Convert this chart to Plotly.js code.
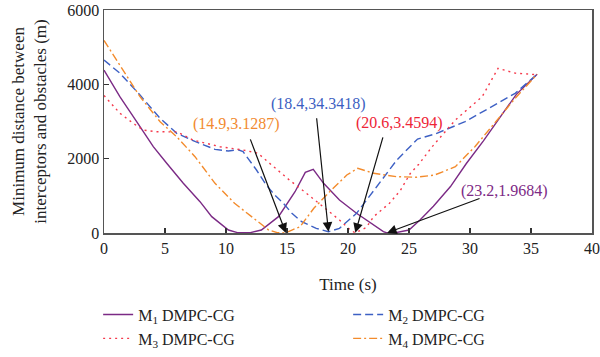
<!DOCTYPE html>
<html>
<head>
<meta charset="utf-8">
<script src="https://cdn.plot.ly/plotly-3.0.1.min.js"></script>
<style>html,body{margin:0;padding:0;background:#fff}#chart{width:600px;height:357px}</style>
</head>
<body>
<div id="chart"></div>
<script>
// ---- data ----
const seriesNames = ['M<sub>1</sub> DMPC-CG', 'M<sub>2</sub> DMPC-CG', 'M<sub>3</sub> DMPC-CG', 'M<sub>4</sub> DMPC-CG'];

const m1Time = [0, 1.3, 2.95, 4.04, 5.14, 6.5, 7.87, 8.83, 10.2, 11.0, 12.0, 12.9, 14.3, 15.66, 16.5, 17.15, 18.0, 19.3, 20.7, 22.1, 22.9, 23.2, 24.0, 25.0, 25.9, 27.0, 28.4, 29.7, 31.1, 32.5, 33.8, 35.5];
const m1Dist = [4380, 3667, 2860, 2322, 1875, 1337, 843, 440, 80, 5, 10, 80, 440, 1110, 1630, 1713, 1337, 888, 530, 215, 35, 2, 15, 80, 350, 720, 1250, 1870, 2480, 3130, 3730, 4270];

const m2Time = [0, 1.31, 2.95, 4.6, 5.96, 7.5, 9.1, 10.2, 11.0, 11.4, 12.5, 13.3, 14.0, 14.7, 15.4, 16.2, 17.4, 18.4, 19.3, 20.7, 22.35, 24.0, 25.7, 27.1, 29.6, 31.8, 33.7, 35.5];
const m2Dist = [4654, 4296, 3712, 3085, 2682, 2456, 2251, 2206, 2240, 2190, 1695, 1290, 1022, 800, 530, 304, 126, 34, 126, 530, 1245, 1963, 2528, 2660, 2994, 3398, 3758, 4270];

const m3Time = [0, 1.31, 2.4, 3.2, 4.3, 6.0, 7.3, 9.5, 11.4, 12.6, 13.9, 15.2, 16.6, 18.0, 19.3, 20.2, 20.6, 21.5, 22.1, 23.4, 24.3, 25.1, 25.8, 26.9, 28.0, 28.8, 31.0, 32.3, 33.7, 35.5];
const m3Dist = [3700, 3220, 2950, 2770, 2725, 2720, 2500, 2322, 2233, 2150, 1784, 1425, 1068, 708, 350, 80, 3, 150, 440, 800, 1150, 1600, 1850, 2322, 2725, 3040, 3670, 4430, 4300, 4260];

const m4Time = [0, 1.31, 2.95, 4.6, 5.96, 7.46, 9.1, 10.7, 12.4, 13.5, 14.2, 14.9, 15.4, 16.07, 17.2, 18.5, 19.9, 20.8, 22.1, 24.0, 25.6, 27.1, 28.8, 30.4, 32.0, 33.7, 35.5];
const m4Dist = [5180, 4519, 3667, 2994, 2590, 2053, 1337, 800, 350, 80, 10, 3, 80, 170, 664, 1110, 1560, 1740, 1606, 1515, 1500, 1560, 1784, 2322, 2950, 3623, 4270];

// annotated minimum points (time, distance)
const annTime = [14.9, 18.4, 20.6, 23.2];
const annDist = [3.1287, 34.3418, 3.4594, 1.9684];

const xTicks = [0, 5, 10, 15, 20, 25, 30, 35, 40];
const yTicks = [0, 2000, 4000, 6000];

// ---- styles ----
const colors = ['#7b2a85', '#3d60c4', '#f5394b', '#f38b2c'];
const dashes = ['solid', '8px,4px', '2px,4px', '8px,3px,2px,3px'];
const annColors = ['#f28a30', '#3c5fc2', '#ee2536', '#7d2a86'];
const arrowOff = [[-36, -95], [-12, -115], [28, -97], [94, -35]];
const textShift = [[-49, 109], [-10, 128], [44, 110], [117, 42]];

const times = [m1Time, m2Time, m3Time, m4Time];
const dists = [m1Dist, m2Dist, m3Dist, m4Dist];

const traces = times.map((t, i) => ({
  x: t, y: dists[i], type: 'scatter', mode: 'lines', name: seriesNames[i],
  line: {color: colors[i], width: 1.4, dash: dashes[i]}
}));

const annotations = [];
annTime.forEach((t, i) => {
  annotations.push({
    x: t, y: annDist[i], xref: 'x', yref: 'y', text: '', showarrow: true,
    ax: arrowOff[i][0], ay: arrowOff[i][1], axref: 'pixel', ayref: 'pixel',
    arrowhead: 2, arrowsize: 1.6, arrowwidth: 1.2, arrowcolor: '#111', standoff: 0
  });
  annotations.push({
    x: t, y: annDist[i], xref: 'x', yref: 'y', showarrow: false,
    text: '(' + t + ',' + annDist[i] + ')',
    xshift: textShift[i][0], yshift: textShift[i][1],
    font: {family: 'Liberation Serif', size: 16, color: annColors[i]}
  });
});

const axisCommon = {
  showgrid: false, zeroline: false, showline: true, linecolor: '#555', linewidth: 1.5,
  mirror: true, ticks: 'inside', ticklen: 5, tickwidth: 1.2, tickcolor: '#333',
  tickfont: {family: 'Liberation Serif', size: 16, color: '#222'}
};

const layout = {
  width: 600, height: 357,
  margin: {l: 104, r: 8, t: 10, b: 124, autoexpand: false},
  paper_bgcolor: '#fff', plot_bgcolor: '#fff',
  font: {family: 'Liberation Serif', color: '#222'},
  showlegend: true,
  xaxis: Object.assign({}, axisCommon, {
    range: [0, 40], tickvals: xTicks, ticktext: xTicks.map(String),
    title: {text: 'Time (s)', font: {family: 'Liberation Serif', size: 17, color: '#222'}, standoff: 22}
  }),
  yaxis: Object.assign({}, axisCommon, {
    range: [0, 6000], tickvals: yTicks, ticktext: yTicks.map(String),
    title: {text: 'Minimum distance between<br>interceptors and obstacles (m)', font: {family: 'Liberation Serif', size: 17, color: '#222'}, standoff: 16}
  }),
  legend: {
    orientation: 'h', x: -0.012, y: -0.29, xanchor: 'left', yanchor: 'top',
    entrywidth: 205, entrywidthmode: 'pixels', itemwidth: 30,
    font: {family: 'Liberation Serif', size: 16, color: '#222'},
    bgcolor: 'rgba(0,0,0,0)', traceorder: 'normal'
  },
  annotations: annotations
};

Plotly.newPlot('chart', traces, layout, {displayModeBar: false, staticPlot: true});
</script>
</body>
</html>
